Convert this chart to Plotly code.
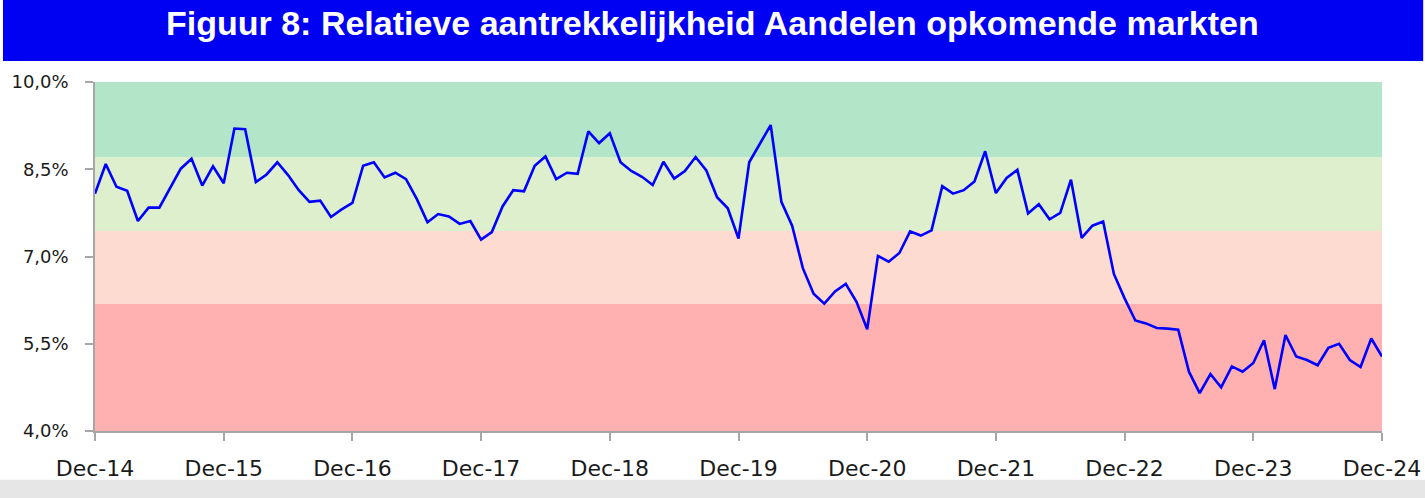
import pandas as pd
import plotly.graph_objects as go

# monthly observations, Dec-14 .. Dec-24 (in %)
months = pd.date_range("2014-12-31", periods=121, freq="ME").strftime("%b-%y").tolist()

attractiveness = [
    8.08, 8.59, 8.20, 8.13, 7.61, 7.84, 7.84, 8.17, 8.51, 8.68, 8.22, 8.55,
    8.26, 9.20, 9.19, 8.28, 8.41, 8.62, 8.40, 8.14, 7.94, 7.96, 7.68, 7.81,
    7.92, 8.56, 8.62, 8.36, 8.44, 8.33, 7.99, 7.59, 7.73, 7.69, 7.56, 7.61,
    7.29, 7.42, 7.86, 8.14, 8.12, 8.56, 8.72, 8.33, 8.44, 8.42, 9.15, 8.95,
    9.12, 8.62, 8.47, 8.37, 8.23, 8.63, 8.34, 8.47, 8.71, 8.48, 8.02, 7.83,
    7.31, 8.62, 8.93, 9.26, 7.94, 7.53, 6.80, 6.36, 6.19, 6.40, 6.53, 6.22,
    5.75, 7.01, 6.91, 7.06, 7.43, 7.36, 7.45, 8.21, 8.08, 8.14, 8.29, 8.81,
    8.09, 8.35, 8.49, 7.74, 7.90, 7.64, 7.75, 8.32, 7.32, 7.53, 7.60, 6.70,
    6.28, 5.90, 5.85, 5.77, 5.76, 5.74, 5.02, 4.65, 4.98, 4.75, 5.11, 5.02,
    5.17, 5.56, 4.72, 5.65, 5.28, 5.22, 5.13, 5.43, 5.50, 5.22, 5.10, 5.59,
    5.28,
]

# valuation zones (lower, upper, colour)
band_edges = [4.0, 6.19, 7.44, 8.71, 10.0]
band_colors = ["#ffb0b0", "#fddbd0", "#ddefcc", "#b3e6c9"]

tick_months = [m for m in months if m.startswith("Dec")]
y_ticks = [4.0, 5.5, 7.0, 8.5, 10.0]
y_labels = ["4,0%", "5,5%", "7,0%", "8,5%", "10,0%"]

fig = go.Figure()

for lo, hi, col in zip(band_edges[:-1], band_edges[1:], band_colors):
    fig.add_shape(type="rect", xref="x domain", yref="y", x0=0, x1=1, y0=lo, y1=hi,
                  fillcolor=col, line_width=0, layer="below")

fig.add_trace(go.Scatter(x=months, y=attractiveness, mode="lines",
                         line=dict(color="#0000ff", width=2.6), showlegend=False))

# title bar and grey strip at the bottom
fig.add_shape(type="rect", xref="paper", yref="paper", x0=-0.0715, x1=1.032, y0=1.06, y1=1.25,
              fillcolor="#0000f2", line_width=0, layer="below")
fig.add_shape(type="rect", xref="paper", yref="paper", x0=-0.08, x1=1.04, y0=-0.14, y1=-0.25,
              fillcolor="#e6e6e6", line_width=0, layer="below")
fig.add_annotation(text="<b>Figuur 8: Relatieve aantrekkelijkheid Aandelen opkomende markten</b>",
                   xref="paper", yref="paper", x=0.48, y=1.170, showarrow=False,
                   xanchor="center", yanchor="middle",
                   font=dict(family="Liberation Sans, Arial", size=34, color="white"))

fig.update_layout(
    width=1425, height=498,
    margin=dict(l=95, r=43, t=82, b=67),
    plot_bgcolor="white", paper_bgcolor="white",
    font=dict(family="DejaVu Sans", color="#1a1a1a"),
)
fig.update_xaxes(type="category", range=[0, len(months) - 1], automargin=False,
                 tickvals=tick_months, ticktext=tick_months,
                 showgrid=False, showline=True, linecolor="#a6a6a6", linewidth=1.5,
                 ticks="outside", ticklen=8, tickcolor="#a6a6a6", tickwidth=1.5,
                 tickfont=dict(size=22), ticklabelstandoff=9)
fig.update_yaxes(range=[4, 10], tickvals=y_ticks, ticktext=y_labels, automargin=False,
                 showgrid=False, zeroline=False, showline=True, linecolor="#a6a6a6", linewidth=1.5,
                 ticks="outside", ticklen=8, tickcolor="#a6a6a6", tickwidth=1.5,
                 tickfont=dict(size=18), ticklabelstandoff=13)

# drop the browser's default page margin so the figure sits at the window origin
fig.write_html("out.html", config={"displayModeBar": False},
               post_script="document.body.style.margin='0';")
